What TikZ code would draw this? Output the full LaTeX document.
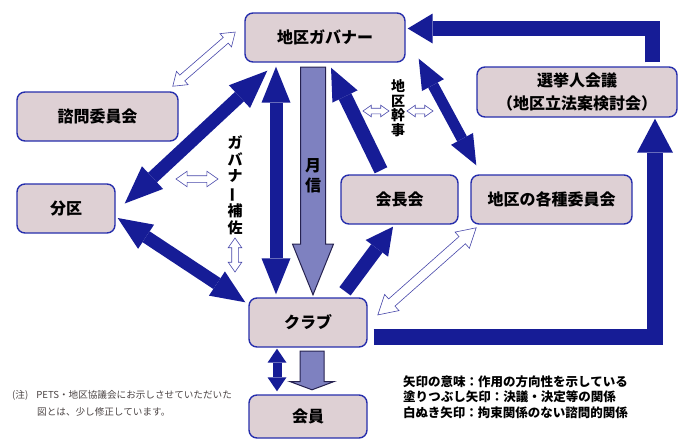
\documentclass[tikz,border=0pt]{standalone}
\usepackage{fontspec}
\setmainfont{Noto Sans CJK JP}
\usepackage{graphicx}
\usetikzlibrary{arrows.meta,calc,shapes.arrows}
\definecolor{navyarr}{RGB}{22,28,150}
\definecolor{boxfill}{RGB}{222,208,212}
\definecolor{boxline}{RGB}{38,46,172}
\definecolor{mooncol}{RGB}{126,129,192}
\definecolor{moonline}{RGB}{38,34,80}
\definecolor{openline}{RGB}{72,72,170}
\definecolor{notecol}{RGB}{75,68,68}
\newcommand*{\vbar}{\rotatebox[origin=c]{90}{ー}}
\newcommand*{\openarrow}[3][]{%
  \path let \p1=($(#3)-(#2)$), \n1={veclen(\x1,\y1)} in
    (#2) -- node[hollow,minimum height=\n1,#1]{} (#3);}
\newcommand*{\moonarrow}[3][]{%
  \path let \p1=($(#3)-(#2)$), \n1={veclen(\x1,\y1)} in
    (#2) -- node[moon,pos=0,anchor=tail,minimum height=\n1,#1]{} (#3);}

\begin{document}
\begin{tikzpicture}[x=1pt, y=-1pt,
    box/.style={draw=boxline, fill=boxfill, line width=1.4pt, rounded corners=8pt,
      minimum height=49pt, inner sep=0pt, align=center,
      font=\fontsize{16}{23}\selectfont\bfseries},
    vlabel/.style={inner sep=0pt, align=center},
    heavy/.style n args={3}{draw=navyarr, line width=#1,
      arrows={-{Triangle[length=#2,width=#3,line width=0pt]}}},
    heavydbl/.style n args={3}{draw=navyarr, line width=#1,
      arrows={{Triangle[length=#2,width=#3,line width=0pt]}-{Triangle[length=#2,width=#3,line width=0pt]}}},
    hollow/.style={double arrow, draw=openline, fill=white, line width=.6pt,
      sloped, allow upside down, inner xsep=0pt, minimum width=0pt,
      double arrow tip angle=70},
    moon/.style={single arrow, draw=moonline, fill=mooncol, line width=1pt,
      sloped, allow upside down, inner xsep=0pt, minimum width=0pt},
    legend/.style={anchor=west, inner sep=0pt,
      font=\fontsize{12.5}{15}\selectfont\bfseries},
    note/.style={anchor=west, inner sep=0pt, text=notecol,
      font=\fontsize{9.6}{12}\selectfont}]
  \useasboundingbox (0,0) rectangle (681,439);

  % boxes
  \node[box, minimum width=160pt] (gov) at (325,37.5) {地区ガバナー};
  \node[box, minimum width=161pt] (shimon) at (97.5,116.5) {諮問委員会};
  \node[box, minimum width=98pt] (bunku) at (66,208.5) {分区};
  \node[box, minimum width=200pt, minimum height=50pt] (senkyo) at (577,92)
    {選挙人会議\\（地区立法案検討会）};
  \node[box, minimum width=117pt] (kaicho) at (399.5,199.5) {会長会};
  \node[box, minimum width=161pt] (kakushu) at (551.5,199.5) {地区の各種委員会};
  \node[box, minimum width=118pt] (club) at (308,322.5) {クラブ};
  \node[box, minimum width=118pt, minimum height=43pt] (kaiin) at (308,416.5) {会員};

  % filled arrows
  \draw[heavydbl={13pt}{36pt}{29pt}] ([shift={(-49,4)}]gov.south)
    -- ([shift={(-32,-3)}]club.north);
  \draw[heavydbl={13pt}{38pt}{31pt}] ([shift={(23,8)}]gov.south west)
    -- ([shift={(9,-5)}]bunku.east);
  \draw[heavydbl={13pt}{34pt}{29pt}] ([shift={(2,9.5)}]bunku.east)
    -- ([shift={(-3,5)}]club.north west);
  \draw[heavy={14pt}{32pt}{28pt}] ([shift={(-18.5,-4)}]kaicho.north)
    -- ([shift={(6,5)}]gov.south);
  \draw[heavydbl={11pt}{30pt}{25pt}] ([shift={(13,-4)}]gov.south east)
    -- ([shift={(6,-9)}]kakushu.north west);
  \draw[heavy={14pt}{27pt}{28pt}] ([shift={(37,-6)}]club.north)
    -- ([shift={(-6.5,2)}]kaicho.south);
  \draw[heavy={15pt}{25pt}{30pt}] ([shift={(75.5,-4)}]senkyo.north)
    |- ([shift={(2,-9)}]gov.east);
  \draw[heavy={16pt}{34pt}{36pt}] ([shift={(6,14.5)}]club.east)
    -| ([shift={(78,1)}]senkyo.south);
  \draw[heavydbl={9pt}{14pt}{19pt}] ([shift={(-31,1)}]club.south)
    -- ([shift={(-31,-3)}]kaiin.north);

  % monthly letter arrows
  \moonarrow[inner ysep=12pt, single arrow head extend=8pt, single arrow tip angle=44]
    {[shift={(-12,4)}]gov.south}{[shift={(5,-3)}]club.north}
  \moonarrow[inner ysep=11.5pt, single arrow head extend=10pt, single arrow tip angle=139]
    {[shift={(4,3)}]club.south}{[shift={(4,-5)}]kaiin.north}

  % labels
  \node[vlabel, font=\fontsize{16}{20}\selectfont\bfseries] (gesshin) at (313,176)
    {月\\信};
  \node[vlabel, font=\fontsize{15}{16.7}\selectfont\bfseries] (hosa) at (235,185)
    {ガ\\バ\\ナ\\\vbar\\補\\佐};
  \node[vlabel, font=\fontsize{14}{14.5}\selectfont\bfseries] (kanji) at (398,108)
    {地\\区\\幹\\事};

  % open arrows
  \openarrow[inner ysep=3.5pt, double arrow head extend=5pt]
    {[shift={(-6,-5)}]shimon.north east}{[shift={(-9,-5.5)}]gov.west}
  \openarrow[inner ysep=4.5pt, double arrow head extend=6pt, double arrow tip angle=60]
    {[shift={(6,3)}]kakushu.south west}{[shift={(10,-7.5)}]club.east}
  \openarrow[inner ysep=3pt, double arrow head extend=4.5pt]
    {[shift={(-59,-6)}]hosa.center}{[shift={(-17,-6)}]hosa.center}
  \openarrow[inner ysep=3pt, double arrow head extend=3.5pt]
    {[shift={(0,53)}]hosa.center}{[shift={(0,87)}]hosa.center}
  \foreach \da/\db in {-35/-9, 9/35}{
    \openarrow[inner ysep=2.5pt, double arrow head extend=3pt]
      {[shift={(\da,3)}]kanji.center}{[shift={(\db,3)}]kanji.center}
  }

  % legend and note
  \foreach \y/\t in {382/矢印の意味：作用の方向性を示している,
      397/塗りつぶし矢印：決議・決定等の関係,
      413/白ぬき矢印：拘束関係のない諮問的関係}{
    \node[legend] (leg\y) at (403,\y) {\t};
  }
  \node[note] (note1) at (12,395) {(注)\hspace{8pt}PETS・地区協議会にお示しさせていただいた};
  \node[note] (note2) at (37,412) {図とは、少し修正しています。};
\end{tikzpicture}
\end{document}
